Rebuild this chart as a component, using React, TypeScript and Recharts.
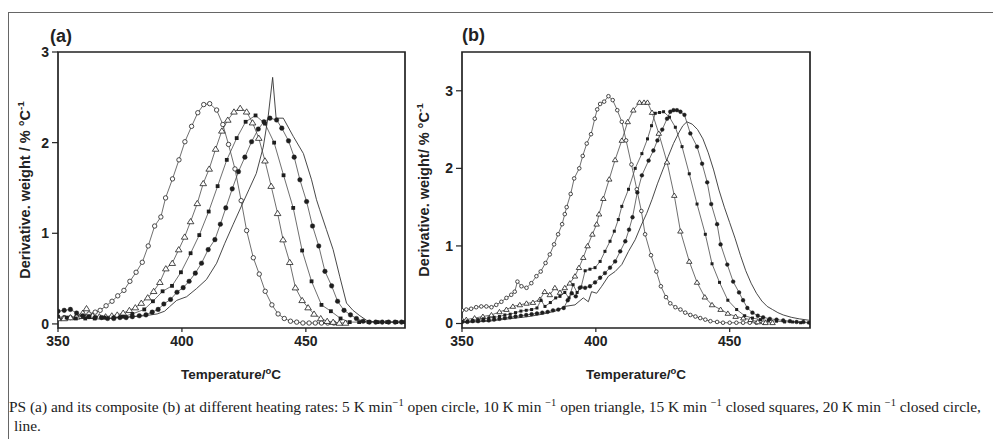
import React from 'react';
import { LineChart, Line, XAxis, YAxis, ReferenceArea } from 'recharts';

type Pt = [number, number];

// ---------- Panel (a): neat PS ----------
const aTicksX = [350, 400, 450];
const aTicksY = [0, 1, 2, 3];
const a5K: Pt[] = [[350,0.06],[352.5,0.07],[355,0.07],[357.5,0.08],[360,0.09],[362.5,0.11],[365,0.13],[367,0.15],[369.4,0.2],[371.8,0.25],[374.1,0.31],[376.6,0.37],[379,0.47],[381.5,0.57],[384,0.68],[386.4,0.86],[389,1.08],[391.5,1.18],[393.4,1.39],[396.2,1.6],[398.8,1.81],[401.2,2.01],[403.9,2.18],[406.4,2.33],[408.8,2.42],[411.2,2.43],[414,2.36],[416.5,2.2],[418.8,1.98],[421.4,1.71],[423.9,1.36],[426.1,1.03],[428.8,0.73],[431.2,0.55],[433.6,0.36],[436.3,0.21],[438.8,0.11],[441.3,0.06],[443.8,0.03],[446.3,0.02],[448.8,0.01],[451.3,0.01],[453.8,0.01],[456.3,0.01],[458.8,0.01],[461.3,0.01]];
const a10K: Pt[] = [[350,0.06],[352.5,0.06],[355,0.07],[357.5,0.08],[360,0.12],[361.5,0.17],[364,0.09],[366.7,0.08],[369.2,0.08],[371.7,0.09],[373.9,0.1],[376.3,0.12],[378.8,0.15],[381.2,0.18],[383.6,0.23],[386.2,0.29],[388.6,0.36],[391.1,0.46],[393.5,0.61],[396.1,0.67],[398.7,0.82],[401.1,0.96],[403.5,1.13],[406.2,1.33],[408.6,1.55],[411,1.71],[413.6,1.93],[416.1,2.13],[418.5,2.25],[421,2.34],[423.5,2.38],[426.1,2.34],[428.5,2.22],[431,2.05],[433.5,1.8],[436,1.52],[438.6,1.22],[440.8,0.93],[443.5,0.68],[445.8,0.4],[448.5,0.26],[450.9,0.18],[453.3,0.11],[456,0.06],[458.6,0.03],[461,0.02],[463.5,0.01],[466,0.01]];
const a15K: Pt[] = [[350,0.08],[353.5,0.07],[357.2,0.06],[361,0.06],[364.8,0.06],[368.6,0.07],[372.4,0.07],[376.2,0.08],[380,0.11],[384.8,0.16],[388.3,0.25],[392.2,0.36],[396,0.42],[399.6,0.57],[403.5,0.78],[407,0.98],[410.8,1.24],[414.4,1.52],[418.1,1.81],[422.1,2.05],[425.7,2.23],[429.7,2.3],[433.5,2.21],[437.2,2],[441,1.64],[444.9,1.28],[448.5,0.81],[452.3,0.47],[456.3,0.21],[460.1,0.14],[464,0.06],[467.7,0.02],[471.5,0.02],[475.3,0.02],[479,0.02],[482.8,0.02],[486.5,0.02],[490,0.02]];
const a20K: Pt[] = [[350,0.14],[352.5,0.15],[355,0.16],[357.5,0.12],[360,0.09],[362.5,0.08],[365,0.07],[367.5,0.07],[370,0.06],[372.5,0.06],[375,0.07],[377.5,0.07],[380,0.08],[382.8,0.09],[385.5,0.1],[388,0.13],[390.4,0.16],[392.7,0.22],[395.4,0.27],[398,0.35],[400.5,0.4],[402.9,0.47],[405.4,0.56],[407.9,0.67],[410.6,0.82],[413.3,0.93],[415.5,1.1],[417.7,1.28],[420.3,1.49],[422.8,1.68],[425.4,1.84],[428.1,2.01],[430.8,2.15],[433.1,2.23],[435.5,2.27],[438.2,2.25],[440.3,2.16],[443,2.02],[445.3,1.84],[447.6,1.59],[450.3,1.35],[452.7,1.08],[455.2,0.86],[457.7,0.58],[460.4,0.42],[462.8,0.25],[465.4,0.15],[468,0.1],[470.4,0.06],[473.1,0.03],[475.6,0.02],[478.2,0.02],[480.8,0.02],[483.4,0.02],[486,0.02],[488.6,0.02]];
const aLine: Pt[] = [[350,0.05],[355,0.05],[360,0.06],[365,0.06],[370,0.07],[375,0.07],[380,0.08],[385,0.09],[390,0.11],[393,0.14],[395,0.19],[397.9,0.26],[401.9,0.3],[405.9,0.39],[409.9,0.49],[414,0.67],[417.3,0.89],[420.7,1.1],[424,1.3],[427,1.48],[430,1.66],[432.8,1.95],[434.8,2.29],[436.6,2.72],[438,2.27],[440.9,2.27],[444.9,2.07],[449,1.88],[452.3,1.59],[454.3,1.37],[455.6,1.26],[458.3,1.04],[461,0.82],[463.7,0.52],[466.4,0.23],[469,0.15],[471.8,0.09],[474.5,0.04],[478,0.02],[490,0.02]];

// ---------- Panel (b): composite ----------
const bTicksX = [350, 400, 450];
const bTicksY = [0, 1, 2, 3];
const b5K: Pt[] = [[350,0.17],[351.6,0.18],[353.4,0.19],[355.3,0.21],[357.2,0.22],[359.1,0.22],[361,0.21],[362.8,0.24],[364.7,0.28],[366.6,0.33],[368.4,0.37],[369.7,0.41],[370.7,0.54],[372.2,0.48],[374.1,0.46],[375.9,0.52],[377.8,0.61],[379.4,0.67],[381.2,0.78],[382.8,0.89],[384.4,1.02],[385.9,1.15],[387.4,1.28],[388.4,1.41],[389.1,1.5],[390.6,1.67],[391.9,1.87],[393.8,2],[395.1,2.16],[396.6,2.32],[398.2,2.44],[399.6,2.64],[400.5,2.76],[401.6,2.83],[403.1,2.86],[404.7,2.93],[406.3,2.88],[408,2.75],[409.7,2.6],[411.3,2.36],[413.3,2.05],[415.3,1.73],[417,1.45],[418.4,1.15],[420.6,0.88],[422.6,0.67],[424.3,0.48],[426.2,0.34],[427.8,0.26],[429.7,0.21],[431.6,0.18],[433.4,0.14],[435.3,0.11],[437.2,0.09],[439,0.07],[440.9,0.05],[442.8,0.03],[445.3,0.02],[447.5,0.01],[450,0.01],[452.5,0.01],[455,0.01],[457.5,0.01],[460,0.01],[462.5,0.01]];
const b10K: Pt[] = [[350,0.05],[351.6,0.05],[354.7,0.07],[357.8,0.09],[361,0.11],[364,0.15],[366.6,0.18],[369,0.22],[371.6,0.24],[374.1,0.26],[376.5,0.27],[379.1,0.31],[380.9,0.41],[382.8,0.37],[384.7,0.46],[386.6,0.4],[388.4,0.46],[390.3,0.52],[392.2,0.61],[393.7,0.72],[395.3,0.85],[396.9,1],[398.7,1.15],[400.3,1.28],[401.2,1.41],[402.8,1.61],[405,1.86],[407.2,2.11],[409.7,2.36],[411.9,2.6],[414,2.75],[416.3,2.85],[418,2.85],[419.3,2.85],[421,2.72],[423.5,2.45],[426.6,2.08],[429.3,1.65],[431.6,1.19],[434.9,0.8],[437.8,0.53],[440.7,0.34],[443.4,0.24],[446.6,0.18],[449.3,0.13],[452.2,0.09],[455.1,0.07],[457.8,0.05],[460.5,0.02],[463.4,0.01],[466,0.01]];
const b15K: Pt[] = [[350,0.03],[352,0.03],[354,0.04],[356,0.05],[358,0.06],[360,0.07],[362,0.08],[364,0.09],[366,0.11],[368,0.12],[370,0.14],[372,0.16],[374,0.17],[376,0.18],[378,0.2],[379.5,0.3],[381,0.22],[383,0.27],[385,0.33],[386.6,0.35],[388.4,0.4],[390,0.33],[391.5,0.5],[393,0.4],[394.5,0.47],[396,0.68],[397.8,0.7],[399.7,0.72],[401.6,0.8],[403.4,0.93],[405.3,1.06],[406.9,1.19],[408.4,1.34],[409.7,1.51],[412.2,1.73],[414.7,2],[417.2,2.19],[419.3,2.38],[420.8,2.55],[422.2,2.71],[423.8,2.72],[425.3,2.73],[427.5,2.66],[429.7,2.53],[432.2,2.28],[434.9,1.93],[437.8,1.54],[440.9,1.15],[443.4,0.77],[446.2,0.53],[449.3,0.3],[452.6,0.18],[455.6,0.1],[458.5,0.07],[461.5,0.05],[464.5,0.04],[467.5,0.03],[470.5,0.02],[473.5,0.02],[476.5,0.01],[479.5,0.01]];
const b20K: Pt[] = [[350,0.02],[352,0.02],[354,0.03],[356,0.03],[358,0.04],[360,0.04],[362,0.05],[364,0.06],[366,0.07],[368,0.08],[370,0.09],[372,0.1],[374,0.11],[376,0.12],[378,0.13],[380,0.14],[382,0.15],[384,0.17],[386,0.18],[388,0.2],[389.5,0.3],[391,0.39],[392.5,0.35],[394,0.46],[396,0.46],[397.8,0.48],[399.7,0.53],[401.6,0.59],[403.4,0.65],[405.3,0.72],[407.2,0.8],[409.1,0.93],[411,1.06],[412.4,1.21],[413.7,1.37],[415.5,1.69],[417.2,1.91],[419.7,2.1],[421.5,2.23],[423,2.36],[424.8,2.5],[426.6,2.64],[427.8,2.73],[429,2.75],[430.3,2.75],[431.6,2.73],[433.1,2.69],[435.3,2.45],[437.8,2.28],[439.7,2.06],[441.6,1.82],[443.1,1.54],[445.3,1.28],[446.6,1.02],[449.1,0.76],[451.3,0.54],[453.5,0.4],[455,0.3],[456.6,0.2],[458.5,0.14],[460.5,0.1],[462.5,0.08],[465,0.06],[467.5,0.05],[470,0.04],[472.5,0.03],[475,0.02],[477.5,0.02],[480,0.01]];
const bLine: Pt[] = [[350,0.01],[355,0.02],[360,0.03],[365,0.05],[370,0.07],[375,0.09],[380,0.12],[385,0.16],[388.4,0.22],[392.2,0.24],[395.3,0.33],[397.2,0.28],[398.4,0.41],[400.3,0.39],[402.2,0.48],[404.7,0.61],[407.2,0.67],[409.7,0.76],[412.2,0.93],[414.7,1.08],[417,1.27],[419,1.42],[421,1.6],[423,1.8],[425,1.98],[427,2.15],[429,2.32],[431,2.46],[432.5,2.55],[434,2.6],[436,2.57],[438,2.5],[440,2.38],[442,2.2],[444,1.98],[446,1.72],[448,1.5],[450,1.3],[452,1.1],[454,0.88],[456,0.68],[458,0.52],[460,0.39],[462,0.29],[464,0.22],[466,0.18],[468,0.14],[470,0.11],[473,0.08],[476,0.06],[480,0.04]];

const rows = (pts: Pt[]) => pts.map(([t, v]) => ({ t, v }));

const INK = '#1e1e1e';
const LINE = '#4a4a4a';

type Kind = 'oc' | 'tr' | 'sq' | 'fc';

const makeDot = (kind: Kind, s: number, tag: string) => (p: any) => {
  const { cx, cy, index } = p;
  const key = `${tag}-${kind}-${index}`;
  if (cx == null || cy == null || isNaN(cx) || isNaN(cy)) return <g key={key} />;
  if (kind === 'oc') return <circle key={key} cx={cx} cy={cy} r={s} fill="#fff" stroke={INK} strokeWidth={0.8} />;
  if (kind === 'fc') return <circle key={key} cx={cx} cy={cy} r={s} fill={INK} stroke={INK} strokeWidth={0.4} />;
  if (kind === 'sq') return <rect key={key} x={cx - s} y={cy - s} width={2 * s} height={2 * s} fill={INK} />;
  const h = s * 1.25;
  return (
    <polygon
      key={key}
      points={`${cx},${cy - h} ${cx - h * 1.1},${cy + h * 0.75} ${cx + h * 1.1},${cy + h * 0.75}`}
      fill="#fff"
      stroke={INK}
      strokeWidth={0.8}
    />
  );
};

type SeriesDef = { name: string; pts: Pt[]; kind?: Kind; size?: number };

type PanelProps = {
  tag: string;
  left: number;
  width: number;
  yAxisWidth: number;
  xDomain: [number, number];
  yDomain: [number, number];
  xTicks: number[];
  yTicks: number[];
  series: SeriesDef[];
};

const tickStyle = { fontFamily: 'Liberation Sans, Arial, sans-serif', fontWeight: 700, fontSize: 14, fill: '#222' };

const Panel = ({ tag, left, width, yAxisWidth, xDomain, yDomain, xTicks, yTicks, series }: PanelProps) => (
  <div style={{ position: 'absolute', left, top: 0 }}>
    <LineChart width={width} height={400} margin={{ top: 52, right: 15, bottom: 32, left: 0 }}>
      <XAxis
        type="number"
        dataKey="t"
        domain={xDomain}
        ticks={xTicks}
        allowDataOverflow
        axisLine={false}
        tickLine={{ stroke: '#222', strokeWidth: 1.2 }}
        tickSize={4}
        tickMargin={4}
        height={40}
        tick={tickStyle}
      />
      <YAxis
        type="number"
        dataKey="v"
        domain={yDomain}
        ticks={yTicks}
        allowDataOverflow
        axisLine={false}
        tickLine={{ stroke: '#222', strokeWidth: 1.2 }}
        tickSize={6}
        tickMargin={3}
        width={yAxisWidth}
        tick={tickStyle}
      />
      {series.map((s) => (
        <Line
          key={s.name}
          name={s.name}
          data={rows(s.pts)}
          dataKey="v"
          type="linear"
          stroke={s.kind ? LINE : '#333'}
          strokeWidth={s.kind ? 0.8 : 0.9}
          dot={s.kind ? makeDot(s.kind, s.size ?? 2, tag + s.name) : false}
          activeDot={false}
          isAnimationActive={false}
        />
      ))}
      <ReferenceArea
        x1={xDomain[0]}
        x2={xDomain[1]}
        y1={yDomain[0]}
        y2={yDomain[1]}
        fill="none"
        stroke="#222"
        strokeWidth={1.7}
        ifOverflow="visible"
      />
    </LineChart>
  </div>
);

const boldFont: React.CSSProperties = {
  fontFamily: 'Liberation Sans, Arial, sans-serif',
  fontWeight: 700,
  color: '#222',
  whiteSpace: 'nowrap',
  position: 'absolute',
  lineHeight: 1,
};

const sup: React.CSSProperties = { fontSize: '0.68em', verticalAlign: 'super', lineHeight: 0 };

const YLabel = ({ cx, cy, text }: { cx: number; cy: number; text: string }) => (
  <div style={{ ...boldFont, left: cx, top: cy, fontSize: 14.5, transform: 'translate(-50%, -50%) rotate(-90deg)' }}>
    {text}
    <span style={sup}>-1</span>
  </div>
);

const XLabel = ({ cx, cy }: { cx: number; cy: number }) => (
  <div style={{ ...boldFont, left: cx, top: cy, fontSize: 13.5, transform: 'translate(-50%, -50%)' }}>
    Temperature/<span style={{ fontSize: '0.7em', verticalAlign: 'super', lineHeight: 0 }}>o</span>C
  </div>
);

const capSup: React.CSSProperties = { fontSize: 10.5, verticalAlign: 'super', lineHeight: 0 };

export default function App() {
  return (
    <div style={{ position: 'absolute', left: 0, top: 0, width: 993, height: 439, background: '#fff', overflow: 'hidden' }}>
      {/* figure frame */}
      <div style={{ position: 'absolute', left: 8, top: 12, width: 985, height: 0, borderTop: '1.3px solid #666' }} />
      <div style={{ position: 'absolute', left: 8, top: 12, width: 0, height: 427, borderLeft: '1.3px solid #666' }} />

      <Panel
        tag="a"
        left={0}
        width={420}
        yAxisWidth={58}
        xDomain={[350, 490]}
        yDomain={[-0.045, 3]}
        xTicks={aTicksX}
        yTicks={aTicksY}
        series={[
          { name: '5 K/min', pts: a5K, kind: 'oc', size: 2.2 },
          { name: '10 K/min', pts: a10K, kind: 'tr', size: 2.4 },
          { name: '15 K/min', pts: a15K, kind: 'sq', size: 1.9 },
          { name: '20 K/min', pts: a20K, kind: 'fc', size: 2.3 },
          { name: 'line', pts: aLine },
        ]}
      />
      <Panel
        tag="b"
        left={400}
        width={425}
        yAxisWidth={62}
        xDomain={[350, 480]}
        yDomain={[-0.058, 3.5]}
        xTicks={bTicksX}
        yTicks={bTicksY}
        series={[
          { name: '5 K/min', pts: b5K, kind: 'oc', size: 1.8 },
          { name: '10 K/min', pts: b10K, kind: 'tr', size: 2.0 },
          { name: '15 K/min', pts: b15K, kind: 'sq', size: 1.5 },
          { name: '20 K/min', pts: b20K, kind: 'fc', size: 1.9 },
          { name: 'line', pts: bLine },
        ]}
      />

      <div style={{ ...boldFont, left: 50, top: 27, fontSize: 18 }}>(a)</div>
      <div style={{ ...boldFont, left: 462, top: 26, fontSize: 18 }}>(b)</div>

      <YLabel cx={25} cy={190} text="Derivative. weight / % °C" />
      <YLabel cx={424} cy={190} text="Derivative. weight/ % °C" />
      <XLabel cx={231} cy={375} />
      <XLabel cx={636} cy={375} />

      <div
        style={{
          position: 'absolute',
          left: 9,
          top: 397,
          fontFamily: 'Liberation Serif, Times New Roman, serif',
          fontSize: 15.4,
          color: '#222',
          whiteSpace: 'nowrap',
          lineHeight: '19px',
        }}
      >
        <div>
          PS (a) and its composite (b) at different heating rates: 5 K min<span style={capSup}>−1</span> open circle, 10 K min <span style={capSup}>−1</span> open triangle, 15 K min <span style={capSup}>−1</span> closed squares, 20 K min <span style={capSup}>−1</span> closed circle,
        </div>
        <div style={{ paddingLeft: 5 }}>line.</div>
      </div>
    </div>
  );
}
